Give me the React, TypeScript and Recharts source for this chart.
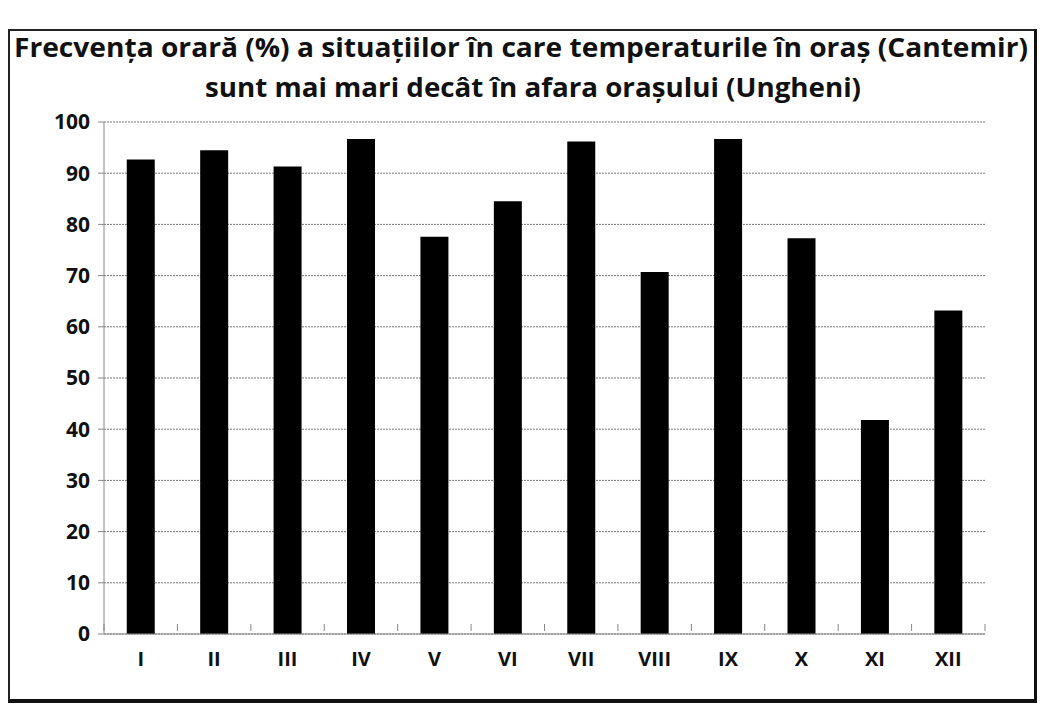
import { BarChart, Bar, XAxis, YAxis, CartesianGrid } from "recharts";

const months = ["I", "II", "III", "IV", "V", "VI", "VII", "VIII", "IX", "X", "XI", "XII"];
const frequency = [92.7, 94.5, 91.3, 96.7, 77.6, 84.5, 96.2, 70.7, 96.7, 77.3, 41.8, 63.2];
const yTicks = [0, 10, 20, 30, 40, 50, 60, 70, 80, 90, 100];

const titleLine1 = "Frecvența orară (%) a situațiilor în care temperaturile în oraș (Cantemir)";
const titleLine2 = "sunt mai mari decât în afara orașului (Ungheni)";

const data = months.map((m, i) => ({ month: m, value: frequency[i] }));

const FONT = "'Open Sans', 'Liberation Sans', sans-serif";
const BAND = (985 - 104) / months.length;

function MonthTick(props: any) {
  const { x, y, payload } = props;
  return (
    <g>
      <line x1={x - BAND / 2} y1={y - 16} x2={x - BAND / 2} y2={y - 9} stroke="#888" />
      {payload.index === months.length - 1 && (
        <line x1={x + BAND / 2} y1={y - 16} x2={x + BAND / 2} y2={y - 9} stroke="#888" />
      )}
      <text x={x} y={y + 26} textAnchor="middle" fontSize={20} fontWeight={700} fontFamily={FONT} fill="#111">
        {payload.value}
      </text>
    </g>
  );
}

export default function App() {
  return (
    <div style={{ position: "absolute", left: 0, top: 0, width: 1041, height: 707, background: "#fff" }}>
      <div
        style={{
          position: "absolute",
          left: 8,
          top: 29,
          width: 1024,
          height: 668,
          borderTop: "2px solid #222",
          borderLeft: "2px solid #222",
          borderRight: "3px solid #111",
          borderBottom: "4px solid #111",
        }}
      />
      <svg width={1041} height={110} style={{ position: "absolute", left: 0, top: 0 }}>
        <text
          x={521}
          y={57}
          textAnchor="middle"
          fontSize={27}
          fontWeight={700}
          fontFamily={FONT}
          fill="#111"
          textLength={1014}
          lengthAdjust="spacingAndGlyphs"
        >
          {titleLine1}
        </text>
        <text
          x={533}
          y={97}
          textAnchor="middle"
          fontSize={27}
          fontWeight={700}
          fontFamily={FONT}
          fill="#111"
          textLength={656}
          lengthAdjust="spacingAndGlyphs"
        >
          {titleLine2}
        </text>
      </svg>
      <div style={{ position: "absolute", left: 0, top: 0 }}>
        <BarChart
          width={1041}
          height={707}
          data={data}
          margin={{ top: 122, right: 56, bottom: 33, left: 44 }}
          barCategoryGap="31%"
        >
          <CartesianGrid vertical={false} stroke="#777" strokeDasharray="2 1" />
          <XAxis
            dataKey="month"
            height={40}
            axisLine={{ stroke: "#888" }}
            tickLine={false}
            tick={<MonthTick />}
            interval={0}
            tickMargin={0}
          />
          <YAxis
            domain={[0, 100]}
            ticks={yTicks}
            width={60}
            interval={0}
            tickSize={6}
            tickMargin={8}
            axisLine={{ stroke: "#888" }}
            tickLine={{ stroke: "#888" }}
            tick={{ fontSize: 21, fontWeight: 700, fill: "#111", fontFamily: FONT }}
          />
          <Bar dataKey="value" fill="#000" isAnimationActive={false} />
        </BarChart>
      </div>
    </div>
  );
}
